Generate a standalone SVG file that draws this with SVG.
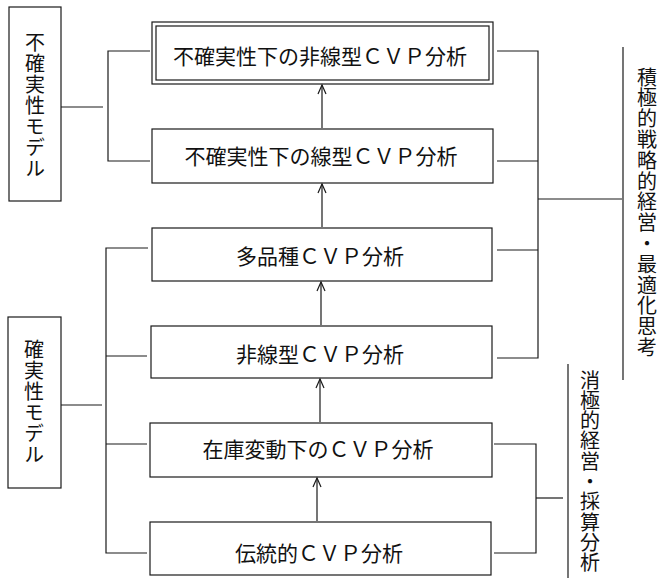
<svg xmlns="http://www.w3.org/2000/svg" width="660" height="578" viewBox="0 0 660 578">
<style>
.b{fill:none;stroke:#1a1a1a;stroke-width:1.2}
.l{fill:none;stroke:#1a1a1a;stroke-width:1.2}
.v{font-family:"Noto Sans CJK JP","Noto Sans CJK SC",sans-serif;font-size:20px;fill:#111;writing-mode:vertical-rl;text-anchor:start}
.m{font-family:"Noto Sans CJK JP","Noto Sans CJK SC",sans-serif;font-size:21px;fill:#111;text-anchor:middle;dominant-baseline:central}
</style>
<defs>
<marker id="ah" markerUnits="userSpaceOnUse" markerWidth="12" markerHeight="12" refX="10" refY="5" orient="auto">
<path d="M1,1 L10,5 L1,9" fill="none" stroke="#1a1a1a" stroke-width="1.2"/>
</marker>
</defs>
<rect width="660" height="578" fill="#fff"/>

<g id="uncertain-model">
<rect class="b" x="9" y="7" width="52" height="194"/>
<text class="v" x="35" y="32" letter-spacing="1">不確実性モデル</text>
</g>

<g id="certain-model">
<rect class="b" x="8" y="317" width="53" height="171"/>
<text class="v" x="34" y="339" letter-spacing="1">確実性モデル</text>
</g>

<g id="n1">
<rect class="b" x="152" y="22" width="341" height="62"/>
<rect class="b" x="156" y="26" width="333" height="54"/>
<text class="m" x="320" y="55">不確実性下の非線型ＣＶＰ分析</text>
</g>
<g id="n2">
<rect class="b" x="152" y="129" width="341" height="54"/>
<text class="m" x="321" y="155">不確実性下の線型ＣＶＰ分析</text>
</g>
<g id="n3">
<rect class="b" x="152" y="228" width="340" height="53"/>
<text class="m" x="320" y="255">多品種ＣＶＰ分析</text>
</g>
<g id="n4">
<rect class="b" x="151" y="326" width="341" height="52"/>
<text class="m" x="320" y="353">非線型ＣＶＰ分析</text>
</g>
<g id="n5">
<rect class="b" x="150" y="423" width="342" height="54"/>
<text class="m" x="318" y="448">在庫変動下のＣＶＰ分析</text>
</g>
<g id="n6">
<rect class="b" x="150" y="522" width="341" height="53"/>
<text class="m" x="319" y="552">伝統的ＣＶＰ分析</text>
</g>

<g id="active-mgmt">
<line class="l" x1="623" y1="47" x2="623" y2="380"/>
<text class="v" x="647" y="67" letter-spacing="0.8">積極的戦略的経営・最適化思考</text>
</g>

<g id="passive-mgmt">
<line class="l" x1="568" y1="364" x2="568" y2="578"/>
<text class="v" x="590" y="370" letter-spacing="0.3">消極的経営・採算分析</text>
</g>

<g id="connectors">
<line class="l" x1="322" y1="128" x2="322" y2="85" marker-end="url(#ah)"/>
<line class="l" x1="322" y1="227" x2="322" y2="184" marker-end="url(#ah)"/>
<line class="l" x1="321" y1="325" x2="321" y2="282" marker-end="url(#ah)"/>
<line class="l" x1="320" y1="422" x2="320" y2="379" marker-end="url(#ah)"/>
<line class="l" x1="317" y1="521" x2="317" y2="478" marker-end="url(#ah)"/>
<line class="l" x1="61" y1="107" x2="103" y2="107"/>
<path class="l" d="M150,51 H108 V161 H150"/>
<line class="l" x1="61" y1="405" x2="102" y2="405"/>
<path class="l" d="M148,248 H106 V553 H147"/>
<line class="l" x1="106" y1="356" x2="147" y2="356"/>
<line class="l" x1="106" y1="444" x2="147" y2="444"/>
<path class="l" d="M497,51 H538 V358 H497"/>
<line class="l" x1="497" y1="161" x2="538" y2="161"/>
<line class="l" x1="497" y1="250" x2="538" y2="250"/>
<line class="l" x1="538" y1="199" x2="622" y2="199"/>
<path class="l" d="M494,444 H536 V553 H494"/>
<line class="l" x1="536" y1="498" x2="563" y2="498"/>
</g>
</svg>
